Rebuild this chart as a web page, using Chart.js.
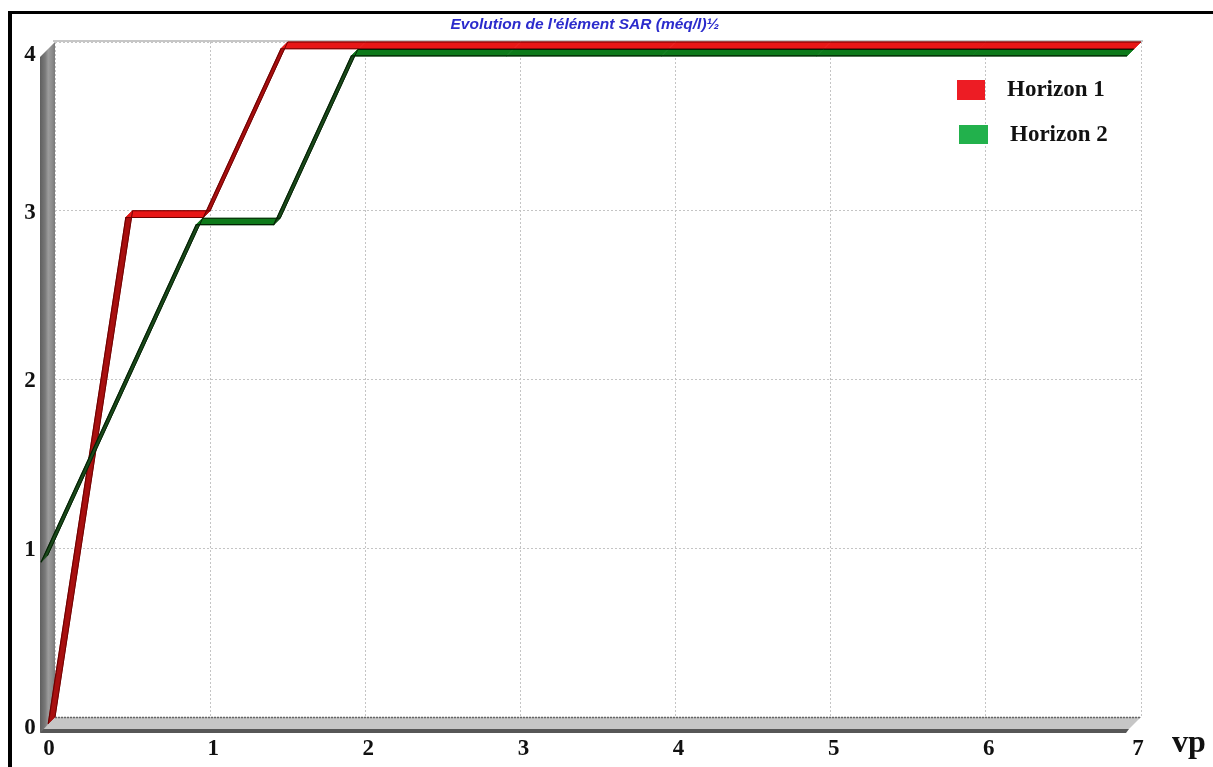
<!DOCTYPE html>
<html>
<head>
<meta charset="utf-8">
<script src="https://cdn.jsdelivr.net/npm/chart.js@4/dist/chart.umd.min.js"></script>
<style>
  html, body { margin: 0; padding: 0; background: #ffffff; }
  canvas { display: block; }
</style>
</head>
<body>
<canvas id="sar" width="1213" height="767"></canvas>
<script>
// ---- chart data ----
const chartTitle = "Evolution de l'élément SAR (méq/l)½";
const xAxisName = 'vp';
const xTickLabels = ['0', '1', '2', '3', '4', '5', '6', '7'];
const yTickLabels = ['0', '1', '2', '3', '4'];
const seriesNames = ['Horizon 1', 'Horizon 2'];

const horizon1X = [0, 0.5, 1, 1.5, 2, 3, 4, 5, 6, 7];
const horizon1Y = [0, 3, 3, 4, 4, 4, 4, 4, 4, 4];
const horizon2X = [0, 1, 1.5, 2, 3, 4, 5, 6, 7];
const horizon2Y = [1, 3, 3, 4, 4, 4, 4, 4, 4];

const toPoints = (xs, ys) => xs.map((x, i) => ({ x: x, y: ys[i] }));

// ---- 3D look: depth vector of the box (front minus back) ----
const DEPTH = { x: -15, y: 15 };

function wallsAndFloor(chart) {
  const { ctx, chartArea: a } = chart;
  ctx.save();
  // floor top face
  ctx.beginPath();
  ctx.moveTo(a.left, a.bottom);
  ctx.lineTo(a.right, a.bottom);
  ctx.lineTo(a.right - 12, a.bottom + 12);
  ctx.lineTo(a.left - 12, a.bottom + 12);
  ctx.closePath();
  ctx.fillStyle = '#c6c6c6';
  ctx.fill();
  // floor front face
  ctx.beginPath();
  ctx.moveTo(a.left - 13, a.bottom + 12);
  ctx.lineTo(a.right - 12, a.bottom + 12);
  ctx.lineTo(a.right - 15, a.bottom + 16);
  ctx.lineTo(a.left - 15, a.bottom + 16);
  ctx.closePath();
  ctx.fillStyle = '#575757';
  ctx.fill();
  // back edge of floor
  ctx.setLineDash([2, 1]);
  ctx.strokeStyle = '#666666';
  ctx.lineWidth = 1.5;
  ctx.beginPath();
  ctx.moveTo(a.left, a.bottom + 0.5);
  ctx.lineTo(a.right, a.bottom + 0.5);
  ctx.stroke();
  ctx.setLineDash([]);
  // left wall
  const g = ctx.createLinearGradient(a.left + DEPTH.x, 0, a.left, 0);
  g.addColorStop(0, '#5f5f5f');
  g.addColorStop(0.35, '#7a7a7a');
  g.addColorStop(0.55, '#9c9c9c');
  g.addColorStop(0.8, '#8c8c8c');
  g.addColorStop(1, '#7a7a7a');
  ctx.beginPath();
  ctx.moveTo(a.left, a.top);
  ctx.lineTo(a.left, a.bottom);
  ctx.lineTo(a.left + DEPTH.x, a.bottom + DEPTH.y + 1);
  ctx.lineTo(a.left + DEPTH.x, a.top + DEPTH.y);
  ctx.closePath();
  ctx.fillStyle = g;
  ctx.fill();
  // top edge of back wall
  ctx.strokeStyle = '#b4b4b4';
  ctx.lineWidth = 1.5;
  ctx.beginPath();
  ctx.moveTo(a.left - 2, a.top - 1);
  ctx.lineTo(a.right + 2, a.top - 1);
  ctx.stroke();
  ctx.restore();
}

const depthPlugin = {
  id: 'depth3d',
  beforeDatasetsDraw(chart) {
    wallsAndFloor(chart);
  },
  beforeDatasetDraw(chart, args) {
    const ds = chart.data.datasets[args.index];
    const pts = args.meta.data;
    const ctx = chart.ctx;
    const bx = DEPTH.x * ds.depthSlot[0], by = DEPTH.y * ds.depthSlot[0];
    const fx = DEPTH.x * ds.depthSlot[1], fy = DEPTH.y * ds.depthSlot[1];
    ctx.save();
    // ribbon faces, one per segment
    for (let i = 0; i < pts.length - 1; i++) {
      const p = pts[i], q = pts[i + 1];
      const flat = Math.abs(q.y - p.y) < 0.5;
      ctx.beginPath();
      ctx.moveTo(p.x + bx, p.y + by);
      ctx.lineTo(q.x + bx, q.y + by);
      ctx.lineTo(q.x + fx, q.y + fy);
      ctx.lineTo(p.x + fx, p.y + fy);
      ctx.closePath();
      ctx.fillStyle = flat ? ds.topColor : ds.sideColor;
      ctx.strokeStyle = ctx.fillStyle;
      ctx.lineWidth = 0.8;
      ctx.fill();
      ctx.stroke();
    }
    // back edge of the ribbon
    ctx.beginPath();
    pts.forEach((p, i) => i ? ctx.lineTo(p.x + bx, p.y + by) : ctx.moveTo(p.x + bx, p.y + by));
    ctx.strokeStyle = ds.borderColor;
    ctx.lineWidth = 1;
    ctx.stroke();
    ctx.restore();
    // the line itself is drawn as the front edge
    ctx.save();
    ctx.translate(fx, fy);
  },
  afterDatasetDraw(chart) {
    chart.ctx.restore();
  },
  afterDraw(chart) {
    const { ctx, scales } = chart;
    ctx.save();
    // outer frame lines
    ctx.fillStyle = '#000000';
    ctx.fillRect(8, 11, 4, 756);
    ctx.fillRect(8, 11, 1205, 3);

    // title
    ctx.font = 'italic bold 15.5px "Liberation Sans", Arial, sans-serif';
    ctx.fillStyle = '#2b2bcc';
    ctx.textAlign = 'center';
    ctx.textBaseline = 'middle';
    ctx.fillText(chartTitle, 585, 25);

    // tick labels
    ctx.font = 'bold 23px "Liberation Serif", "Times New Roman", serif';
    ctx.fillStyle = '#111111';
    yTickLabels.forEach((t, i) => {
      let y = scales.y.getPixelForValue(Number(t));
      if (i === 0) y += 11; else if (i === yTickLabels.length - 1) y += 13; else y += 2;
      ctx.fillText(t, 30, y);
    });
    xTickLabels.forEach((t, i) => {
      let x = scales.x.getPixelForValue(Number(t));
      if (i === 0) x -= 6; else if (i === xTickLabels.length - 1) x -= 3; else x += 3;
      ctx.fillText(t, x, 749);
    });
    ctx.font = 'bold 32px "Liberation Serif", "Times New Roman", serif';
    ctx.textAlign = 'left';
    ctx.textBaseline = 'alphabetic';
    ctx.fillText(xAxisName, 1172, 752);

    // legend
    const legendRows = [
      { rect: [957, 80, 28, 20], textX: 1007, textY: 96 },
      { rect: [959, 125, 29, 19], textX: 1010, textY: 141 }
    ];
    ctx.font = 'bold 23px "Liberation Serif", "Times New Roman", serif';
    chart.data.datasets.forEach((ds, i) => {
      const r = legendRows[i];
      ctx.fillStyle = ds.legendColor;
      ctx.fillRect(r.rect[0], r.rect[1], r.rect[2], r.rect[3]);
      ctx.fillStyle = '#111111';
      ctx.fillText(ds.label, r.textX, r.textY);
    });
    ctx.restore();
  }
};

const axisCommon = {
  type: 'linear',
  ticks: { display: false, stepSize: 1 },
  grid: { color: '#c4c4c4', lineWidth: 1, drawTicks: false },
  border: { display: false, dash: [2, 2] }
};

new Chart(document.getElementById('sar'), {
  type: 'line',
  data: {
    datasets: [
      {
        label: seriesNames[0],
        data: toPoints(horizon1X, horizon1Y),
        borderColor: '#6e0000',
        borderWidth: 1.2,
        topColor: '#e81717',
        sideColor: '#a80f0f',
        legendColor: '#ed1c24',
        depthSlot: [0, 0.45],
        pointRadius: 0,
        tension: 0,
        clip: false,
        order: 1
      },
      {
        label: seriesNames[1],
        data: toPoints(horizon2X, horizon2Y),
        borderColor: '#032003',
        borderWidth: 1.2,
        topColor: '#0d7a1a',
        sideColor: '#1b4a1b',
        legendColor: '#22b14c',
        depthSlot: [0.5, 0.93],
        pointRadius: 0,
        tension: 0,
        clip: false,
        order: 0
      }
    ]
  },
  options: {
    responsive: false,
    animation: false,
    devicePixelRatio: 1,
    layout: { padding: { left: 55, right: 72, top: 42, bottom: 50 } },
    plugins: {
      legend: { display: false },
      title: { display: false },
      tooltip: { enabled: false }
    },
    scales: {
      x: Object.assign({}, axisCommon, { min: 0, max: 7 }),
      y: Object.assign({}, axisCommon, { min: 0, max: 4 })
    }
  },
  plugins: [depthPlugin]
});
</script>
</body>
</html>
